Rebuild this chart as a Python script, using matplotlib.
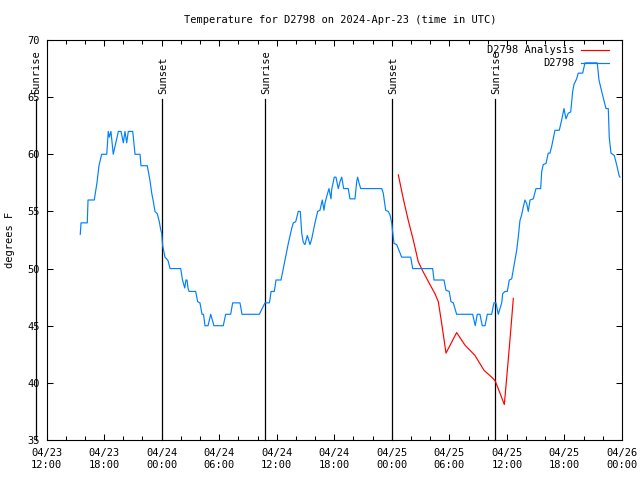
import matplotlib
matplotlib.use("Agg")
import matplotlib.pyplot as plt
import matplotlib.transforms as mtransforms

# hours since 2024-04-23 12:00 UTC
obs_hours = [3.52, 3.60, 4.25, 4.33, 4.98, 5.26, 5.47, 5.75, 6.28, 6.44, 6.55, 6.72, 6.96, 7.49, 7.77,
             8.01, 8.18, 8.36, 8.53, 8.99, 9.23, 9.75, 9.85, 10.51, 10.79, 10.97, 11.13, 11.31, 11.55,
             11.76, 11.91, 12.01, 12.11, 12.35, 12.67, 12.88, 13.99, 14.18, 14.41, 14.54, 14.65, 14.75,
             14.86, 15.55, 15.76, 16.00, 16.21, 16.37, 16.52, 16.84, 17.12, 17.46, 18.43, 18.68, 19.20,
             19.41, 20.17, 20.38, 22.19, 22.60, 22.78, 23.23, 23.30, 23.41, 23.75, 23.93, 24.45, 24.86,
             25.21, 25.56, 25.73, 25.98, 26.25, 26.46, 26.61, 26.77, 26.95, 27.19, 27.47, 27.65, 27.99,
             28.27, 28.51, 28.75, 28.93, 29.03, 29.21, 29.45, 29.66, 29.73, 30.00, 30.18, 30.42, 30.60,
             30.78, 30.98, 31.46, 31.64, 32.16, 32.34, 32.44, 32.58, 32.76, 34.95, 35.11, 35.36, 35.63,
             35.81, 35.99, 36.09, 36.23, 36.51, 36.75, 37.03, 37.97, 38.18, 40.26, 40.40, 41.44, 41.65,
             41.99, 42.17, 42.41, 42.76, 44.43, 44.70, 44.91, 45.19, 45.43, 45.72, 45.96, 46.41, 46.65,
             46.86, 47.10, 47.46, 47.56, 47.80, 48.04, 48.25, 48.50, 48.84, 49.02, 49.19, 49.36, 49.54,
             49.71, 49.88, 50.06, 50.23, 50.41, 50.75, 51.03, 51.52, 51.63, 51.79, 52.08, 52.31, 52.49,
             52.67, 52.84, 53.01, 53.46, 53.71, 53.95, 54.16, 54.40, 54.65, 54.86, 54.99, 55.27, 55.44,
             55.90, 56.14, 57.42, 57.60, 57.88, 58.12, 58.33, 58.57, 58.67, 58.85, 59.19, 59.44, 59.71,
             59.79]
obs_temps = [53.0, 54, 54, 56, 56, 57.5, 59, 60, 60, 62, 61.5, 62, 60, 62, 62,
             61, 62, 61, 62, 62, 60, 60, 59, 59, 57.7, 56.6, 55.9, 55, 54.8,
             54.1, 53.4, 53.1, 52, 51, 50.7, 50, 50, 49, 48.3, 49, 49, 48.3,
             48, 48, 47.1, 47, 46, 46, 45, 45, 46, 45, 45, 46, 46,
             47, 47, 46, 46, 46.7, 47, 47, 47.3, 48, 48, 49, 49, 50.7,
             52.2, 53.5, 54, 54.1, 55, 55, 53.1, 52.3, 52.1, 52.9, 52.1, 52.6, 54,
             55, 55.1, 56, 55.1, 55.7, 56.3, 57, 56.1, 56.9, 58, 58, 57, 57.6,
             58, 57, 57, 56.1, 56.1, 57.6, 58, 57.5, 57, 57, 56.6, 55.1, 55,
             54.7, 54, 53.2, 52.2, 52.1, 51.6, 51, 51, 50, 50, 49, 49, 48.1,
             48, 47.1, 47, 46, 46, 45, 46, 46, 45, 45, 46, 46, 47,
             47, 46, 47, 47.8, 48, 48, 49, 49.1, 50.7, 51.6, 52.8, 54.2, 54.7,
             55.4, 56, 55.7, 55, 56, 56.1, 57, 57, 58.5, 59.1, 59.2, 60.1, 60.1,
             60.7, 61.4, 62.1, 62.1, 63, 64, 63.1, 63.6, 63.7, 65.5, 66.1, 66.6, 67.1,
             67.1, 68, 68, 66.5, 65.5, 64.7, 64, 64, 61.5, 60.1, 59.9, 59.1, 58.1,
             58]

ana_hours = [36.68, 37.20, 37.72, 38.24, 38.76, 39.28, 39.98, 40.50, 40.85, 41.20, 41.65, 42.76,
             43.63, 44.67, 45.61, 46.41, 46.76, 47.28, 47.73, 47.90, 48.14, 48.43, 48.67]
ana_temps = [58.2, 56.1, 54.2, 52.5, 50.6, 49.7, 48.6, 47.8, 47.1, 45.2, 42.6, 44.4,
             43.3, 42.4, 41.1, 40.5, 40.2, 39.1, 38.1, 39.7, 42.0, 44.9, 47.4]

sun_hours = [-1.12, 12.07, 22.82, 36.05, 46.79]
sun_labels = ["Sunrise", "Sunset", "Sunrise", "Sunset", "Sunrise"]

xtick_hours = [0, 6, 12, 18, 24, 30, 36, 42, 48, 54, 60]
xtick_labels = ["04/23\n12:00", "04/23\n18:00", "04/24\n00:00", "04/24\n06:00", "04/24\n12:00",
                "04/24\n18:00", "04/25\n00:00", "04/25\n06:00", "04/25\n12:00", "04/25\n18:00",
                "04/26\n00:00"]
yticks = [35, 40, 45, 50, 55, 60, 65, 70]

series_names = ["D2798 Analysis", "D2798"]
series_colors = ["#ff0000", "#0080ff"]

FONT = "DejaVu Sans Mono"
FS = 7.5
LW = 0.85
plt.rcParams['font.family'] = FONT
plt.rcParams['font.size'] = FS

fig = plt.figure(figsize=(6.4, 4.8), dpi=100)
ax = fig.add_axes([46.5 / 640, 40 / 480, 575.5 / 640, 400 / 480])

ax.plot(ana_hours, ana_temps, color=series_colors[0], lw=LW, zorder=3)
ax.plot(obs_hours, obs_temps, color=series_colors[1], lw=LW, zorder=3)

ax.set_xlim(0, 60)
ax.set_ylim(35, 70)
ax.set_xticks(xtick_hours)
ax.set_xticklabels(xtick_labels, linespacing=1.15)
ax.set_xticks(range(0, 61, 2), minor=True)
ax.set_yticks(yticks)
ax.tick_params(axis='both', which='both', direction='in', top=True, right=True, width=0.75)
ax.tick_params(axis='both', which='major', length=4)
ax.tick_params(axis='both', which='minor', length=3)
ax.tick_params(axis='x', which='major', pad=6)
ax.tick_params(axis='y', which='major', pad=5)
for s in ax.spines.values():
    s.set_linewidth(0.8)

trans = mtransforms.blended_transform_factory(ax.transData, ax.transAxes)
for h, lab in zip(sun_hours, sun_labels):
    ax.plot([h, h], [0, 0.8525], color='black', lw=0.9, transform=trans, clip_on=False, zorder=2)
    ax.text(h + 0.1, 0.866, lab, rotation=90, ha='center', va='bottom', transform=trans,
            clip_on=False, fontsize=FS)

# key (gnuplot style, right aligned)
rows_y = [0.975, 0.943]
for name, col, y in zip(series_names, series_colors, rows_y):
    ax.text(0.9166, y, name, ha='right', va='center', transform=ax.transAxes, fontsize=FS)
    ax.plot([0.9288, 0.9774], [y, y], color=col, lw=LW, transform=ax.transAxes, clip_on=False)

fig.text(340 / 640, 1 - 20 / 480, "Temperature for D2798 on 2024-Apr-23 (time in UTC)",
         ha='center', va='center', fontsize=FS)
fig.text(10 / 640, 0.5, "degrees F", rotation=90, ha='center', va='center', fontsize=FS)

fig.savefig("out.png", dpi=100)
